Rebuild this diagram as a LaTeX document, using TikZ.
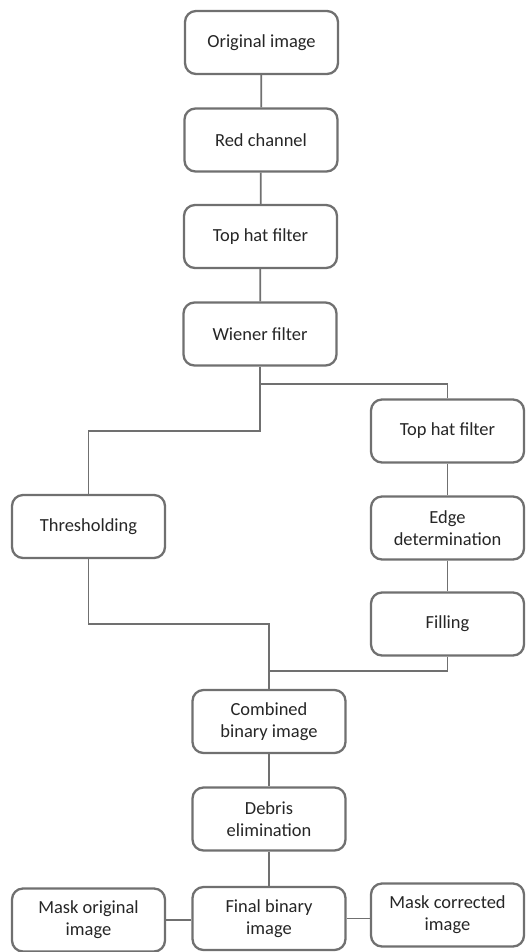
\documentclass[tikz,border=0pt]{standalone}
\usepackage{fontspec}
\setmainfont{Carlito}
\definecolor{edgegray}{RGB}{112,112,112}
\tikzset{
  box/.style={draw=edgegray, line width=1.3pt, rounded corners=0.22cm, fill=white,
    minimum width=3.06cm, minimum height=1.26cm, align=center, inner sep=2pt,
    font=\fontsize{10.5}{12.5}\selectfont, text=black!85},
  link/.style={draw=edgegray, line width=1pt}
}
\begin{document}
\begin{tikzpicture}
\useasboundingbox (0,0) rectangle (10.5,-19.04);
\node[box] (orig) at (5.23,-0.85){Original image};
\node[box] (red) at (5.22,-2.8){Red channel};
\node[box] (tophat) at (5.21,-4.73){Top hat filter};
\node[box] (wiener) at (5.2,-6.68){Wiener filter};
\node[box] (tophatB) at (8.95,-8.62){Top hat filter};
\node[box] (thresh) at (1.77,-10.53){Thresholding};
\node[box] (edge) at (8.95,-10.56){Edge\\determination};
\node[box] (fill) at (8.95,-12.48){Filling};
\node[box] (comb) at (5.38,-14.43){Combined\\binary image};
\node[box] (debris) at (5.38,-16.38){Debris\\elimination};
\node[box] (final) at (5.38,-18.37){Final binary\\image};
\node[box] (maskorig) at (1.77,-18.4){Mask original\\image};
\node[box] (maskcorr) at (8.95,-18.3){Mask corrected\\image};
% main column
\draw[link] (orig) -- (red);
\draw[link] (red) -- (tophat);
\draw[link] (tophat) -- (wiener);
% split
\coordinate (split) at ([yshift=-0.34cm]wiener.south);
\draw[link] (wiener.south) -- (split) -| (tophatB.north);
\draw[link] (split) -- ++(0,-0.94) -| (thresh.north);
\draw[link] (tophatB) -- (edge);
\draw[link] (edge) -- (fill);
% merge
\coordinate (join) at ([yshift=0.36cm]comb.north);
\draw[link] (thresh.south) -- ++(0,-1.3) -| (comb.north);
\draw[link] (fill.south) |- (join);
\draw[link] (comb) -- (debris);
\draw[link] (debris) -- (final);
\draw[link] (maskorig.east) -- (maskorig.east -| final.west);
\draw[link] (final.east) -- (final.east -| maskcorr.west);
\end{tikzpicture}
\end{document}
